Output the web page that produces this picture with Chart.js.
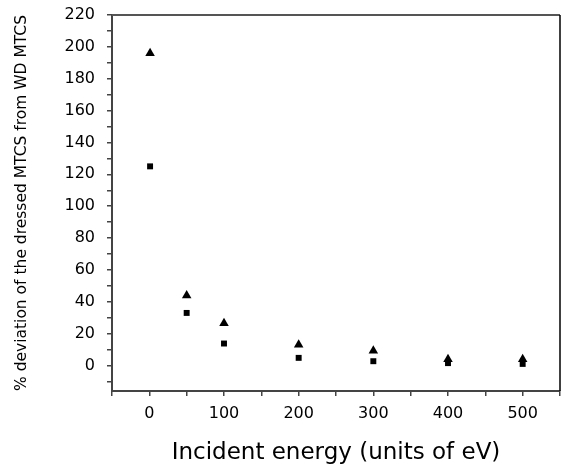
<!DOCTYPE html>
<html>
<head>
<meta charset="utf-8">
<script src="https://cdn.jsdelivr.net/npm/chart.js@4"></script>
<style>
html,body{margin:0;padding:0;background:#fff;}
#wrap{width:567px;height:474px;position:relative;}
</style>
</head>
<body>
<div id="wrap"><canvas id="c" width="567" height="474"></canvas></div>
<script>
const energies = [1, 50, 100, 200, 300, 400, 500];
const triangleSeries = [196, 44, 26.5, 13, 9.3, 4, 4];
const squareSeries = [125, 33, 13.8, 4.8, 2.7, 1.5, 1];
const xTickLabels = [0, 100, 200, 300, 400, 500];
const yTickLabels = [0, 20, 40, 60, 80, 100, 120, 140, 160, 180, 200, 220];

const fontFam = '"DejaVu Sans", sans-serif';

const framePlugin = {
  id: 'frame',
  afterDraw(chart) {
    const {ctx, chartArea: a} = chart;
    ctx.save();
    ctx.strokeStyle = '#555';
    ctx.lineWidth = 2;
    ctx.beginPath();
    ctx.moveTo(a.left, a.top);
    ctx.lineTo(a.right, a.top);
    ctx.stroke();
    ctx.strokeStyle = '#000';
    ctx.lineWidth = 1.5;
    ctx.beginPath();
    ctx.moveTo(a.right, a.top);
    ctx.lineTo(a.right, a.bottom);
    ctx.stroke();
    ctx.restore();
  }
};

new Chart(document.getElementById('c'), {
  type: 'scatter',
  data: {
    datasets: [
      {
        label: 'triangle',
        data: energies.map((e, i) => ({x: e, y: triangleSeries[i]})),
        pointStyle: 'triangle',
        pointRadius: 5.5,
        backgroundColor: '#000',
        borderColor: '#000',
        borderWidth: 0
      },
      {
        label: 'square',
        data: energies.map((e, i) => ({x: e, y: squareSeries[i]})),
        pointStyle: 'rect',
        pointRadius: 4.2,
        backgroundColor: '#000',
        borderColor: '#000',
        borderWidth: 0
      }
    ]
  },
  options: {
    responsive: false,
    animation: false,
    devicePixelRatio: 1,
    layout: {padding: {top: 15, right: 7, left: 0, bottom: 0}},
    plugins: {legend: {display: false}, tooltip: {enabled: false}},
    scales: {
      x: {
        type: 'linear',
        min: -50,
        max: 550,
        afterBuildTicks(scale) {
          const t = [];
          for (let v = -50; v <= 550; v += 50) t.push({value: v});
          scale.ticks = t;
        },
        afterFit(scale) { scale.height = 83; scale.paddingLeft = 0; scale.paddingRight = 0; },
        border: {display: true, color: '#444', width: 2},
        grid: {display: true, drawOnChartArea: false, drawTicks: true, tickLength: 5, color: '#444', lineWidth: 1.5},
        ticks: {
          color: '#000',
          padding: 8,
          maxRotation: 0,
          autoSkip: false,
          font: {family: fontFam, size: 16},
          callback: (v) => xTickLabels.includes(v) ? String(v) : ''
        },
        title: {
          display: true,
          text: 'Incident energy (units of eV)',
          color: '#000',
          font: {family: fontFam, size: 23},
          padding: {top: 0, bottom: 7}
        }
      },
      y: {
        type: 'linear',
        min: -16,
        max: 220,
        afterBuildTicks(scale) {
          const t = [];
          for (let v = -10; v <= 220; v += 10) t.push({value: v});
          scale.ticks = t;
        },
        afterFit(scale) { scale.width = 112; scale.paddingTop = 0; scale.paddingBottom = 0; },
        border: {display: true, color: '#444', width: 2},
        grid: {display: true, drawOnChartArea: false, drawTicks: true, tickLength: 5, color: '#444', lineWidth: 1.5},
        ticks: {
          color: '#000',
          padding: 12,
          autoSkip: false,
          font: {family: fontFam, size: 16},
          callback: (v) => yTickLabels.includes(v) ? String(v) : ''
        },
        title: {
          display: true,
          text: '% deviation of the dressed MTCS from WD MTCS',
          color: '#000',
          font: {family: fontFam, size: 15.5},
          padding: {top: 13, bottom: 0}
        }
      }
    }
  },
  plugins: [framePlugin]
});
</script>
</body>
</html>
